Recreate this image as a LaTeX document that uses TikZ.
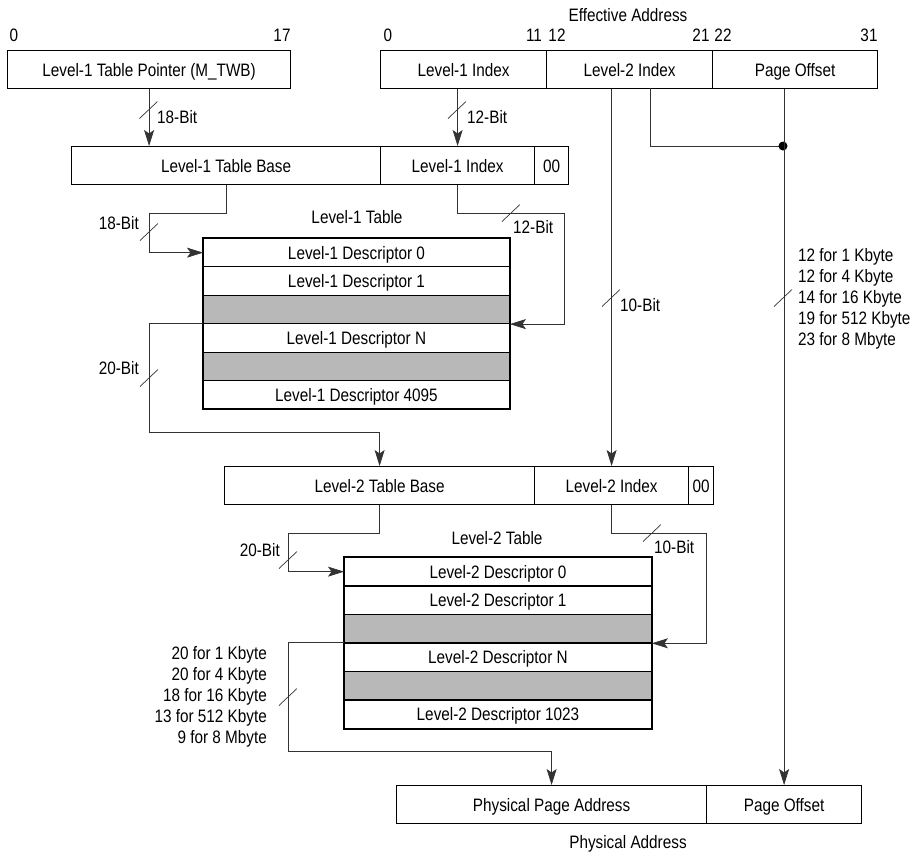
\documentclass[tikz,border=0pt]{standalone}
\usepackage{fontspec}
\setmainfont{Liberation Sans}[FakeStretch=0.85]
\usetikzlibrary{arrows.meta,calc}
\begin{document}
\begin{tikzpicture}[x=1pt,y=-1pt,
  txt/.style={font=\fontsize{18}{21}\selectfont, inner sep=0pt, text height=12.9pt, text depth=0pt},
  cell/.style={txt, draw, line width=1.2pt, minimum height=38pt, anchor=north west},
  rowc/.style={txt, draw, line width=0.9pt, minimum height=28.4pt, anchor=north west},
  shade/.style={rowc, fill=black!28},
  frame/.style={line width=1.7pt},
  conn/.style={line width=0.7pt, draw=black!80},
  arr/.style={conn, -{Stealth[length=16pt,width=10pt,inset=3.5pt]}}
]
\useasboundingbox (0,0) rectangle (919,855);

% ---- top boxes
\node[cell, minimum width=283pt] (ptr) at (7,50) {Level-1 Table Pointer (M\_TWB)};
\node[cell, minimum width=166pt] (ea1) at (380,50) {Level-1 Index};
\node[cell, minimum width=166pt] (ea2) at (546,50) {Level-2 Index};
\node[cell, minimum width=165pt] (ea3) at (712,50) {Page Offset};

\node[txt] (eal) at (628,15) {Effective Address};
\node[txt] (b0)  at (14,35) {0};
\node[txt] (b17) at (282,35) {17};
\node[txt] (c0)  at (388,35) {0};
\node[txt] (c11) at (534,35) {11};
\node[txt] (c12) at (557,35) {12};
\node[txt] (c21) at (701,35) {21};
\node[txt] (c22) at (723,35) {22};
\node[txt] (c31) at (869,35) {31};

% ---- level-1 address
\node[cell, minimum width=309pt] (l1b) at (71,146) {Level-1 Table Base};
\node[cell, minimum width=154pt] (l1i) at (380,146) {Level-1 Index};
\node[cell, minimum width=34pt]  (z1)  at (534,146) {00};

% ---- level-1 table
\node[txt] (t1t) at (357,217) {Level-1 Table};
\node[rowc,  minimum width=306pt] (t1r0) at (203,238)   {Level-1 Descriptor 0};
\node[rowc,  minimum width=306pt] (t1r1) at (203,266.4) {Level-1 Descriptor 1};
\node[shade, minimum width=306pt] (t1r2) at (203,294.8) {};
\node[rowc,  minimum width=306pt] (t1r3) at (203,323.2) {Level-1 Descriptor N};
\node[shade, minimum width=306pt] (t1r4) at (203,351.6) {};
\node[rowc,  minimum width=306pt] (t1r5) at (203,380)   {Level-1 Descriptor 4095};
\draw[frame] (t1r0.north west) rectangle (t1r5.south east);

% ---- level-2 address
\node[cell, minimum width=310pt] (l2b) at (224,466) {Level-2 Table Base};
\node[cell, minimum width=154pt] (l2i) at (534,466) {Level-2 Index};
\node[cell, minimum width=25pt]  (z2)  at (688,466) {00};

% ---- level-2 table
\node[txt] (t2t) at (497,538) {Level-2 Table};
\node[rowc,  minimum width=307pt] (t2r0) at (344,557)   {Level-2 Descriptor 0};
\node[rowc,  minimum width=307pt] (t2r1) at (344,585.5) {Level-2 Descriptor 1};
\node[shade, minimum width=307pt] (t2r2) at (344,614)   {};
\node[rowc,  minimum width=307pt] (t2r3) at (344,642.5) {Level-2 Descriptor N};
\node[shade, minimum width=307pt] (t2r4) at (344,671)   {};
\node[rowc,  minimum width=307pt] (t2r5) at (344,699.5) {Level-2 Descriptor 1023};
\draw[frame] (t2r0.north west) rectangle (t2r5.south east);

% ---- physical address
\node[cell, minimum width=310pt] (ppa) at (396,785) {Physical Page Address};
\node[cell, minimum width=155pt] (po2) at (706,785) {Page Offset};
\node[txt] (pal) at (628,842) {Physical Address};

% ---- connectors
\coordinate (e2) at (650,88);
\coordinate (dot) at (783,146);
\coordinate (k1) at (149,213);
\coordinate (k2) at (564,213);
\coordinate (k3) at (149,432);
\coordinate (k4) at (288,533);
\coordinate (k5) at (706,533);
\coordinate (k6) at (288,751);

\draw[arr] (ptr.south) -- (ptr.south |- l1b.north);
\draw[arr] (ea1.south -| l1i.north) -- (l1i.north);
\draw[arr] (ea2.south -| l2i.north) -- (l2i.north);
\draw[conn] (e2) |- (dot);
\fill (dot) circle[radius=4.5pt];
\draw[arr] (ea3.south -| po2.north) -- (po2.north);

\draw[arr] (l1b.south) |- (k1) |- (t1r0.west);
\draw[arr] (l1i.south) |- (k2) |- (t1r2.south east);
\draw[arr] (t1r3.north west) -| (k3) -| (l2b.north);
\draw[arr] (l2b.south) |- (k4) |- (t2r0.west);
\draw[arr] (l2i.south) |- (k5) |- (t2r2.south east);
\draw[arr] (t2r3.north west) -| (k6) -| (ppa.north);

% ---- bus-width slashes
\coordinate (s1) at (148.5,110);
\coordinate (s2) at (457,110);
\coordinate (s3) at (149,232);
\coordinate (s4) at (511,213);
\coordinate (s5) at (149,378);
\coordinate (s6) at (611,298);
\coordinate (s7) at (783,298);
\coordinate (s8) at (288,560);
\coordinate (s9) at (652,533);
\coordinate (s10) at (288,697);
\foreach \p in {s1,s2,s3,s4,s5,s6,s7,s8,s9,s10}
  \draw[conn] ($(\p)+(-9,8.5)$) -- ($(\p)+(9,-8.5)$);

% ---- labels
\node[txt, anchor=west] (w1) at (157,117) {18-Bit};
\node[txt, anchor=west] (w2) at (467,117) {12-Bit};
\node[txt, anchor=east] (w3) at (139,223) {18-Bit};
\node[txt, anchor=west] (w4) at (513,227) {12-Bit};
\node[txt, anchor=east] (w5) at (139,368) {20-Bit};
\node[txt, anchor=west] (w6) at (620,305) {10-Bit};
\node[txt, anchor=east] (w8) at (280,550) {20-Bit};
\node[txt, anchor=west] (w9) at (654,547) {10-Bit};

\node[txt, anchor=west] (r1) at (798,255) {12 for 1 Kbyte};
\node[txt, anchor=west] (r2) at (798,276) {12 for 4 Kbyte};
\node[txt, anchor=west] (r3) at (798,297) {14 for 16 Kbyte};
\node[txt, anchor=west] (r4) at (798,318) {19 for 512 Kbyte};
\node[txt, anchor=west] (r5) at (798,339) {23 for 8 Mbyte};

\node[txt, anchor=east] (q1) at (267,653) {20 for 1 Kbyte};
\node[txt, anchor=east] (q2) at (267,674) {20 for 4 Kbyte};
\node[txt, anchor=east] (q3) at (267,695) {18 for 16 Kbyte};
\node[txt, anchor=east] (q4) at (267,716) {13 for 512 Kbyte};
\node[txt, anchor=east] (q5) at (267,737) {9 for 8 Mbyte};
\end{tikzpicture}
\end{document}
